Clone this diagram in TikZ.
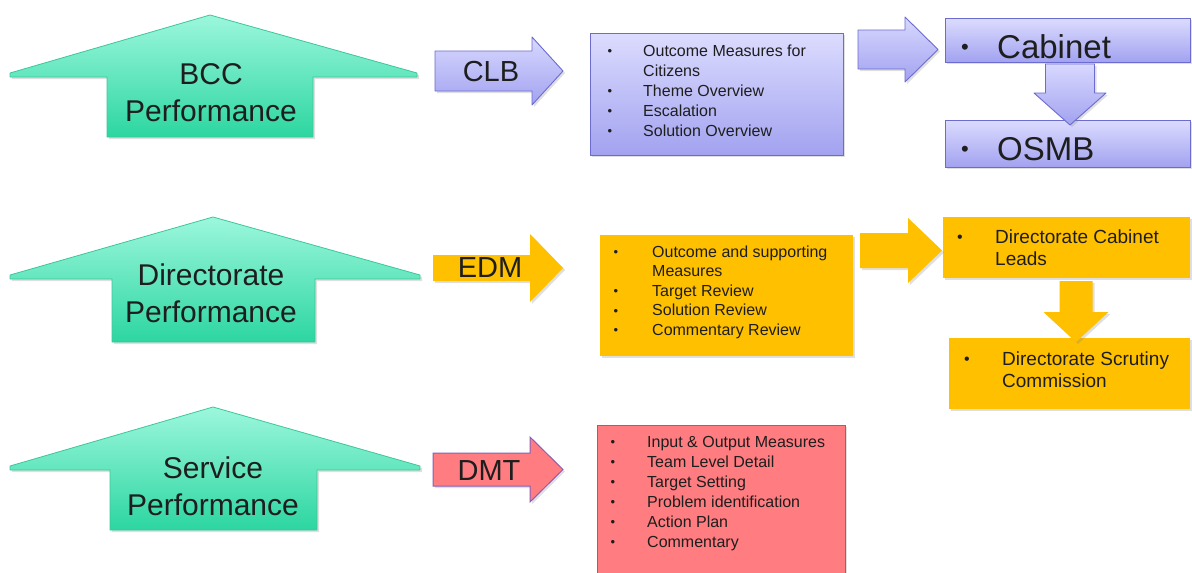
\documentclass[tikz,border=0pt]{standalone}
\usepackage{fontspec}
\setmainfont{Liberation Sans}
\usetikzlibrary{shadows}
\definecolor{gtop}{HTML}{9CF7DC}
\definecolor{gbot}{HTML}{2CD6A0}
\definecolor{gline}{HTML}{3CC79A}
\definecolor{ltop}{HTML}{D8D8FF}
\definecolor{lbot}{HTML}{A2A2F0}
\definecolor{lline}{HTML}{6B6BD0}
\definecolor{amber}{HTML}{FFC000}
\definecolor{salmon}{HTML}{FF7C80}
\definecolor{purp}{HTML}{8660B8}
\definecolor{ink}{HTML}{1E1E1E}
\newcommand\greenup[9]{%
  \path[greenarrow] (#2,#8-4) -- (#6,#7) -- (#3,#8-4) -- (#3,#8) -- (#5,#8) -- (#5,#9) -- (#4,#9) -- (#4,#8) -- (#2,#8) -- cycle;
  \coordinate (#1) at (#6,#8);}
\newcommand\rightarr[8]{%
  \path[#1] (#3,#6-#7) -- (#4,#6-#7) -- (#4,#6-#8) -- (#5,#6) -- (#4,#6+#8) -- (#4,#6+#7) -- (#3,#6+#7) -- cycle;
  \coordinate (#2) at (#5,#6);}
\newcommand\downarr[8]{%
  \path[#1] (#3-#7,#4) -- (#3+#7,#4) -- (#3+#7,#5) -- (#3+#8,#5) -- (#3,#6) -- (#3-#8,#5) -- (#3-#7,#5) -- cycle;
  \coordinate (#2) at (#3,#6);}
\newcommand\sbul{\raisebox{0.05ex}{\fontsize{13}{13}\selectfont •}}
\newcommand\mbul{\raisebox{0.05ex}{\fontsize{16}{16}\selectfont •}}
\newcommand\bbul{\raisebox{0.2ex}{\fontsize{22}{22}\selectfont •}}
\newcommand\lst[2]{\begin{tabular}[t]{@{}p{#1}@{}l@{}}#2\end{tabular}}
\begin{document}
\begin{tikzpicture}[x=1pt,y=-1pt,
  shad/.style={drop shadow={shadow xshift=2pt,shadow yshift=-2pt,opacity=0.25}},
  greenarrow/.style={top color=gtop,bottom color=gbot,draw=gline,line width=0.8pt,line join=round,shad},
  lavarrow/.style={top color=ltop,bottom color=lbot,draw=lline,line width=0.9pt,line join=round,shad},
  ambarrow/.style={fill=amber,shad},
  salarrow/.style={fill=salmon,draw=purp,line width=1pt,shad},
  lavbox/.style={top color=ltop!90!white,bottom color=lbot,draw=lline,line width=0.9pt,inner sep=0pt,outer sep=0pt,shad},
  ambbox/.style={fill=amber,inner sep=0pt,outer sep=0pt,shad},
  salbox/.style={fill=salmon,draw=purp,line width=1pt,inner sep=0pt,outer sep=0pt,shad},
  biglbl/.style={align=center,inner sep=0pt,text=ink,font=\fontsize{30}{37}\selectfont},
  arrlbl/.style={inner sep=0pt,text=ink,font=\fontsize{29}{34}\selectfont},
  listtxt/.style={anchor=base west,inner sep=0pt,text=ink,font=\fontsize{16}{20}\selectfont},
  bigtxt/.style={anchor=base west,inner sep=0pt,text=ink,font=\fontsize{33}{38}\selectfont},
  midtxt/.style={anchor=base west,inner sep=0pt,text=ink,font=\fontsize{19}{22}\selectfont}]
\useasboundingbox (0,0) rectangle (1192,573);
\fill[white] (0,0) rectangle (1192,573);
\clip (0,0) rectangle (1192,573);

% ---------- green up arrows ----------
\greenup{bccarrow}{10}{417}{107}{313}{210}{15}{77}{137}
\greenup{dirarrow}{10}{420}{112}{315}{213}{217}{279}{342}
\greenup{servarrow}{10}{420}{110}{317}{213}{407}{470}{530}
\node[biglbl] (bcc) at (211,92.5) {BCC\\Performance};
\node[biglbl] (dirp) at (211,293.5) {Directorate\\Performance};
\node[biglbl] (servp) at (213,486) {Service\\Performance};

% ---------- boxes ----------
\node[lavbox,anchor=north west,minimum width=253pt,minimum height=122pt] (clbbox) at (590,33) {};
\node[lavbox,anchor=north west,minimum width=245pt,minimum height=44pt] (cabbox) at (945,18) {};
\node[lavbox,anchor=north west,minimum width=245pt,minimum height=47pt] (osmbbox) at (945,120) {};
\node[ambbox,anchor=north west,minimum width=253pt,minimum height=121pt] (edmbox) at (600,235) {};
\node[ambbox,anchor=north west,minimum width=247pt,minimum height=61pt] (dclbox) at (943,217) {};
\node[ambbox,anchor=north west,minimum width=241pt,minimum height=71pt] (dscbox) at (949,338) {};
\node[salbox,anchor=north west,minimum width=248pt,minimum height=180pt] (dmtbox) at (597,425) {};

% ---------- block arrows ----------
\rightarr{lavarrow}{clbtip}{435}{532}{563}{71}{20}{34}
\rightarr{ambarrow}{edmtip}{433}{530}{563}{268}{13}{34}
\rightarr{salarrow}{dmttip}{433}{530}{563}{469.5}{16.5}{32.5}
\rightarr{lavarrow}{cabtip}{858}{905}{938}{49.5}{19.5}{32.5}
\rightarr{ambarrow}{dcltip}{860}{908}{942}{250.5}{17.5}{32.5}
\downarr{lavarrow}{osmbtip}{1070}{64}{93}{125}{24.5}{36}
\downarr{ambarrow}{dsctip}{1076}{281}{312}{342}{16.5}{32.5}

\node[arrlbl] (clb) at (491,72) {CLB};
\node[arrlbl] (edm) at (490,268) {EDM};
\node[arrlbl] (dmt) at (489,471) {DMT};

% ---------- texts ----------
\node[listtxt] (clblist) at (607.5,56) {\lst{35.5pt}{\sbul & Outcome Measures for\\ & Citizens\\ \sbul & Theme Overview\\ \sbul & Escalation\\ \sbul & Solution Overview}};
\node[listtxt,font=\fontsize{16}{19.5}\selectfont] (edmlist) at (613.5,257) {\lst{38.5pt}{\sbul & Outcome and supporting\\ & Measures\\ \sbul & Target Review\\ \sbul & Solution Review\\ \sbul & Commentary Review}};
\node[listtxt] (dmtlist) at (610.5,447) {\lst{36.5pt}{\sbul & Input \& Output Measures\\ \sbul & Team Level Detail\\ \sbul & Target Setting\\ \sbul & Problem identification\\ \sbul & Action Plan\\ \sbul & Commentary}};
\node[bigtxt] (cab) at (961,58) {\makebox[36pt][l]{\bbul}Cabinet};
\node[bigtxt] (osmb) at (961,160) {\makebox[36pt][l]{\bbul}OSMB};
\node[midtxt] (dcl) at (957,243) {\lst{38pt}{\mbul & Directorate Cabinet\\ & Leads}};
\node[midtxt] (dsc) at (964,365) {\lst{38pt}{\mbul & Directorate Scrutiny\\ & Commission}};
\end{tikzpicture}
\end{document}
